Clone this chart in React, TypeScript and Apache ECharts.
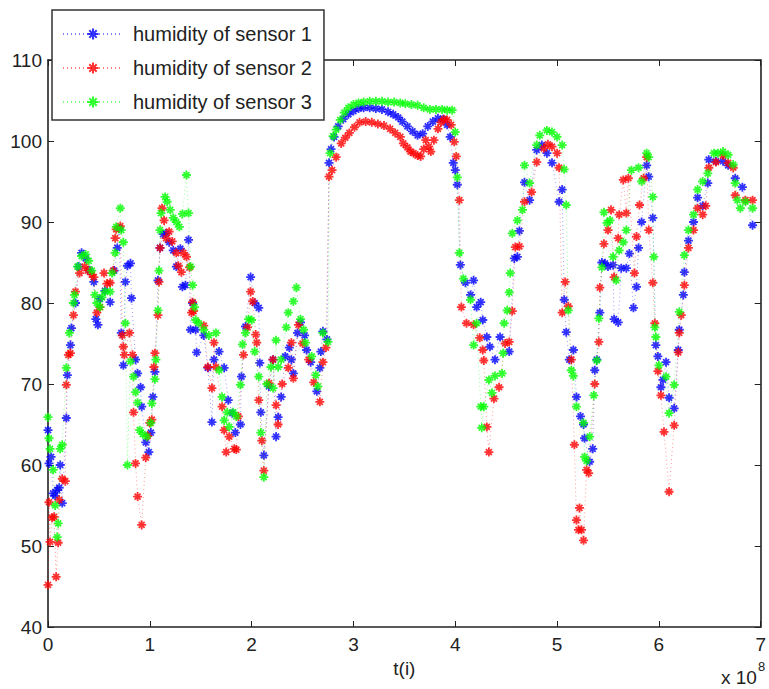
import { useEffect, useRef } from "react";
import * as echarts from "echarts";

const FONT = "'Liberation Sans', Arial, Helvetica, sans-serif";

const xMin = 0;
const xMax = 7;
const xInterval = 1;
const yMin = 40;
const yMax = 110;
const yInterval = 10;

const seriesNames = ["humidity of sensor 1", "humidity of sensor 2", "humidity of sensor 3"];
const seriesColors = ["#0000ff", "#ff0000", "#00ff00"];

// t in units of 1e8, humidity values
const sensor1: [number, number][] = [
  [0.0, 64.3], [0.01, 60.2], [0.03, 61], [0.05, 56.5], [0.07, 56.2], [0.09, 56.9], [0.11, 57.2], [0.12, 60],
  [0.14, 55.3], [0.18, 65.8], [0.19, 71.1], [0.22, 74.8], [0.23, 76.9], [0.27, 80], [0.3, 84.5], [0.33, 86.2],
  [0.37, 85.5], [0.41, 84], [0.45, 82.6], [0.47, 78], [0.49, 77.3], [0.51, 80.5], [0.56, 81.5], [0.61, 80.1],
  [0.65, 84], [0.68, 86.8], [0.7, 89.2], [0.72, 76.3], [0.74, 72.3], [0.76, 82.6], [0.78, 84.6], [0.81, 84.9],
  [0.82, 80.6], [0.86, 73], [0.88, 71.3], [0.91, 69.6], [0.92, 67.2], [0.96, 62.8], [0.99, 61.6], [1.01, 64],
  [1.03, 68.4], [1.05, 71.5], [1.08, 82.8], [1.1, 86.8], [1.13, 88.5], [1.16, 88.6], [1.19, 87.5], [1.23, 86.5],
  [1.26, 84.5], [1.3, 86.7], [1.32, 82], [1.35, 82.2], [1.38, 87.8], [1.4, 76.7], [1.42, 80], [1.45, 76.7],
  [1.46, 73.9], [1.53, 76], [1.57, 72], [1.61, 65.3], [1.63, 73], [1.68, 74], [1.73, 72], [1.77, 68],
  [1.81, 66.4], [1.84, 64], [1.89, 65], [1.9, 70.9], [1.94, 77.1], [1.99, 83.2], [2.03, 80], [2.07, 79.4],
  [2.08, 72.6], [2.09, 66.5], [2.12, 61.2], [2.17, 69.7], [2.21, 73], [2.24, 63.5], [2.26, 65.9], [2.29, 68.4],
  [2.33, 73.4], [2.37, 74.5], [2.39, 73], [2.41, 71.3], [2.45, 76.3], [2.48, 77.6], [2.52, 76], [2.54, 74.2],
  [2.58, 72.7], [2.64, 69.1], [2.67, 72], [2.68, 74], [2.7, 76.5], [2.74, 75.5], [2.76, 97.3], [2.78, 99],
  [2.81, 100.5], [2.85, 101.8], [2.9, 102.7], [2.95, 103.3], [3.0, 103.7], [3.05, 104], [3.1, 104.1], [3.16, 104.1],
  [3.22, 104.0], [3.28, 103.9], [3.34, 103.6], [3.39, 103.3], [3.44, 102.9], [3.48, 102.4], [3.53, 101.8], [3.58, 101.2],
  [3.63, 100.7], [3.68, 100.9], [3.73, 101.8], [3.78, 102.4], [3.83, 102.8], [3.88, 102.7], [3.92, 102], [3.95, 100.5],
  [3.98, 97.3], [4.0, 96.4], [4.02, 94.6], [4.05, 84.7], [4.1, 82.5], [4.15, 81], [4.18, 82.8], [4.21, 79.5],
  [4.25, 80.1], [4.27, 77.9], [4.31, 75.8], [4.34, 74.6], [4.39, 73], [4.44, 75.8], [4.53, 74], [4.58, 85.5],
  [4.61, 85.7], [4.63, 88.9], [4.68, 94.9], [4.73, 92.7], [4.8, 98.9], [4.85, 99.5], [4.9, 98.5], [4.95, 97.3],
  [5.02, 92.5], [5.05, 94], [5.07, 80.4], [5.09, 76.4], [5.12, 73], [5.16, 74.2], [5.19, 68.4], [5.23, 66],
  [5.26, 65], [5.27, 63.3], [5.32, 60.4], [5.35, 62], [5.37, 71.7], [5.39, 73], [5.42, 78.8], [5.44, 85],
  [5.47, 84.9], [5.5, 84.5], [5.55, 84.7], [5.56, 78], [5.6, 77.6], [5.63, 84.3], [5.68, 84.3], [5.71, 86.1],
  [5.75, 79.4], [5.78, 82], [5.8, 86.8], [5.83, 90], [5.88, 97], [5.9, 95.6], [5.94, 90.5], [5.97, 74.8],
  [5.99, 73.4], [6.02, 69.6], [6.04, 70.5], [6.07, 72.7], [6.1, 68.3], [6.15, 67], [6.19, 74.2], [6.2, 76.7],
  [6.24, 81], [6.25, 83.8], [6.29, 87.7], [6.34, 90], [6.38, 93], [6.43, 92], [6.48, 94.8], [6.49, 97.7],
  [6.56, 97.5], [6.63, 97.5], [6.68, 97], [6.75, 95.4], [6.82, 94.3], [6.92, 89.6],
];

const sensor2: [number, number][] = [
  [0.0, 45.2], [0.01, 55.4], [0.02, 50.5], [0.04, 53.5], [0.06, 53.6], [0.08, 46.2], [0.1, 50.4], [0.11, 55.7],
  [0.14, 58.3], [0.17, 58], [0.18, 69.9], [0.2, 73.6], [0.22, 73.8], [0.25, 78.5], [0.27, 81.4], [0.31, 83.7],
  [0.36, 84.5], [0.39, 84], [0.43, 83.5], [0.45, 83.2], [0.48, 78.8], [0.51, 79.5], [0.55, 83.7], [0.58, 82.4],
  [0.61, 82.5], [0.64, 84], [0.66, 88], [0.67, 89.1], [0.71, 89.5], [0.73, 76], [0.74, 74.6], [0.75, 73.6],
  [0.8, 76.3], [0.83, 73.6], [0.84, 66.5], [0.86, 60.2], [0.88, 56.1], [0.92, 52.6], [0.96, 60.9], [0.98, 63.6],
  [1.0, 65.2], [1.02, 65.6], [1.04, 72.1], [1.05, 73.8], [1.08, 78.5], [1.09, 82.6], [1.1, 86.8], [1.12, 91.7],
  [1.14, 90.2], [1.16, 88], [1.19, 88.8], [1.22, 87.6], [1.26, 86.2], [1.28, 84.6], [1.31, 83.8], [1.33, 86.2],
  [1.36, 85.7], [1.39, 84.4], [1.41, 78.8], [1.42, 80.1], [1.43, 79], [1.53, 77.2], [1.57, 72.1], [1.61, 69.5],
  [1.63, 75.1], [1.65, 72.1], [1.71, 67.2], [1.73, 64.3], [1.75, 61.6], [1.78, 63.5], [1.83, 62], [1.85, 61.9],
  [1.87, 66], [1.92, 73.6], [1.96, 77], [1.99, 81.4], [2.01, 80.2], [2.04, 76.1], [2.05, 75.1], [2.07, 68],
  [2.1, 63], [2.12, 59.3], [2.17, 70.1], [2.21, 73], [2.24, 67.4], [2.26, 65], [2.3, 70], [2.36, 72],
  [2.39, 75.1], [2.41, 70.7], [2.46, 77.3], [2.5, 75], [2.56, 73], [2.61, 70.2], [2.67, 67.8], [2.7, 72.7],
  [2.73, 74.5], [2.76, 95.6], [2.79, 96.4], [2.83, 98], [2.88, 99.7], [2.92, 100.4], [2.96, 101], [3.01, 101.7],
  [3.06, 102.3], [3.12, 102.4], [3.18, 102.3], [3.24, 102.1], [3.3, 101.9], [3.36, 101.5], [3.41, 101], [3.46, 100.5],
  [3.49, 99.7], [3.53, 99.2], [3.56, 98.7], [3.59, 98.5], [3.63, 98.2], [3.66, 98.1], [3.69, 99], [3.71, 100.1],
  [3.74, 99.3], [3.76, 98.7], [3.79, 100.1], [3.83, 101.5], [3.86, 102.3], [3.89, 102.7], [3.92, 102.6], [3.96, 102],
  [3.99, 99.9], [4.01, 98.1], [4.04, 92.7], [4.06, 79.5], [4.11, 77.5], [4.18, 77.3], [4.24, 75.7], [4.27, 74.2],
  [4.28, 72.9], [4.31, 64.7], [4.33, 61.6], [4.38, 68.2], [4.43, 69.6], [4.49, 75], [4.53, 75.2], [4.56, 79],
  [4.59, 86.9], [4.63, 87], [4.68, 92.5], [4.75, 93.7], [4.8, 97.4], [4.87, 99.1], [4.91, 99.6], [4.95, 99.3],
  [5.0, 98.5], [5.02, 96.7], [5.05, 78.8], [5.08, 82.6], [5.11, 79.6], [5.14, 73], [5.17, 62.5], [5.19, 53.2],
  [5.21, 52], [5.22, 54.7], [5.24, 52], [5.26, 50.7], [5.29, 59.4], [5.31, 59], [5.37, 70], [5.41, 75.2],
  [5.42, 81.9], [5.46, 87.3], [5.5, 89], [5.53, 91.5], [5.56, 83.2], [5.6, 88], [5.61, 90.9], [5.65, 95.2],
  [5.68, 91.1], [5.7, 95.4], [5.76, 83.7], [5.78, 88.2], [5.81, 92.1], [5.85, 95.4], [5.88, 98], [5.9, 89],
  [5.94, 82.5], [5.96, 77.5], [5.99, 71.6], [6.02, 68.6], [6.05, 64.1], [6.1, 56.7], [6.15, 64.9], [6.19, 73.9],
  [6.2, 76.3], [6.22, 78.5], [6.25, 82.2], [6.29, 86.8], [6.34, 89], [6.38, 91.7], [6.43, 90.9], [6.46, 92],
  [6.49, 96.7], [6.56, 97.4], [6.63, 98.2], [6.68, 97.3], [6.73, 96.7], [6.75, 93.3], [6.85, 92.7], [6.92, 92.7],
];

const sensor3: [number, number][] = [
  [0.0, 65.9], [0.01, 63.3], [0.02, 62], [0.05, 59.4], [0.07, 55], [0.09, 51.1], [0.1, 52.8], [0.12, 62],
  [0.14, 62.5], [0.18, 72], [0.21, 76.3], [0.25, 80], [0.26, 81], [0.29, 84.5], [0.33, 85.8], [0.37, 86],
  [0.4, 85.2], [0.43, 84], [0.46, 81], [0.48, 80], [0.51, 79.5], [0.53, 80.7], [0.56, 81.4], [0.61, 81.4],
  [0.63, 83.7], [0.66, 86.2], [0.67, 89.4], [0.71, 91.7], [0.72, 89], [0.74, 87.5], [0.76, 77.5], [0.78, 60],
  [0.81, 72.8], [0.84, 70.9], [0.86, 69], [0.88, 67.7], [0.9, 64.3], [0.93, 63.8], [0.97, 63.5], [1.01, 65.2],
  [1.02, 67.6], [1.05, 70.6], [1.06, 73], [1.08, 79.1], [1.09, 84], [1.1, 89], [1.11, 91.1], [1.15, 93.1],
  [1.17, 92.5], [1.2, 91.5], [1.23, 90.5], [1.26, 90], [1.29, 89.4], [1.32, 91], [1.36, 95.8], [1.38, 91.1],
  [1.4, 84.5], [1.42, 82.2], [1.44, 79.5], [1.45, 77.9], [1.48, 77.5], [1.53, 76.7], [1.58, 76], [1.65, 76.3],
  [1.68, 71.7], [1.71, 68.4], [1.73, 65.5], [1.76, 66.5], [1.78, 64.7], [1.82, 66.5], [1.85, 66], [1.89, 69.9],
  [1.91, 74.9], [1.94, 76.3], [1.97, 78], [2.0, 77.9], [2.03, 74], [2.07, 70.9], [2.09, 64], [2.12, 58.5],
  [2.15, 70], [2.19, 72.1], [2.21, 69.5], [2.24, 75.4], [2.26, 72.1], [2.29, 73], [2.34, 77], [2.36, 78.8],
  [2.41, 80.2], [2.44, 81.9], [2.48, 78], [2.51, 76.7], [2.53, 75.1], [2.59, 73.4], [2.63, 71.1], [2.65, 69.7],
  [2.7, 76.3], [2.75, 75.2], [2.77, 98.5], [2.8, 100.6], [2.83, 101.4], [2.87, 102.6], [2.91, 103.5], [2.95, 104.1],
  [3.0, 104.5], [3.05, 104.7], [3.1, 104.8], [3.16, 104.9], [3.22, 104.9], [3.28, 104.9], [3.34, 104.8], [3.4, 104.8],
  [3.46, 104.7], [3.51, 104.6], [3.57, 104.5], [3.63, 104.4], [3.69, 104.1], [3.75, 103.9], [3.81, 103.9], [3.87, 103.9],
  [3.92, 103.8], [3.97, 103.8], [4.0, 101.1], [4.02, 95.5], [4.04, 86.2], [4.08, 83], [4.15, 80.4], [4.18, 74.8],
  [4.21, 77.5], [4.25, 67.2], [4.26, 64.6], [4.28, 67.2], [4.33, 70.5], [4.36, 68.9], [4.39, 71], [4.46, 71.3],
  [4.47, 73.8], [4.48, 77.5], [4.51, 79.1], [4.53, 81.3], [4.54, 83.7], [4.56, 88.6], [4.61, 90.2], [4.66, 91.5],
  [4.68, 97], [4.73, 94.8], [4.8, 99.5], [4.83, 100.7], [4.9, 101.3], [4.95, 101.1], [5.0, 100.5], [5.05, 99.5],
  [5.07, 96.5], [5.09, 92.1], [5.11, 79.1], [5.14, 71.7], [5.16, 71], [5.19, 67.2], [5.26, 65.2], [5.27, 61],
  [5.29, 60.5], [5.32, 63.5], [5.36, 68.6], [5.39, 72.9], [5.41, 78.1], [5.44, 84.4], [5.46, 91.2], [5.49, 89.9],
  [5.52, 90.2], [5.55, 85.7], [5.58, 82.8], [5.61, 86.5], [5.65, 87.5], [5.68, 89], [5.73, 96.4], [5.8, 96.7],
  [5.83, 95], [5.88, 98.5], [5.9, 98], [5.94, 93.1], [5.95, 85.7], [5.96, 77], [5.97, 75.8], [6.0, 72.3],
  [6.07, 70.9], [6.1, 66.4], [6.15, 69.9], [6.2, 78.9], [6.25, 85.9], [6.29, 89], [6.34, 90.9], [6.38, 94],
  [6.43, 95], [6.48, 96], [6.54, 98.5], [6.58, 98.5], [6.63, 98.7], [6.68, 98.3], [6.73, 97.1], [6.75, 94.8],
  [6.77, 92.7], [6.8, 91.7], [6.85, 92.5], [6.92, 91.7],
];

const seriesData = [sensor1, sensor2, sensor3];

const ASTERISK = "path://M5 0L5 10M0 5L10 5M1.7 1.7L8.3 8.3M1.7 8.3L8.3 1.7";

export default function App() {
  const ref = useRef<HTMLDivElement>(null);

  useEffect(() => {
    if (!ref.current) return;
    const chart = echarts.init(ref.current, null, { renderer: "svg" });

    const axisLine = { show: true, onZero: false, lineStyle: { color: "#222", width: 1.6 } };
    const axisTick = { show: true, inside: true, length: 6, lineStyle: { color: "#222", width: 1 } };
    const labelStyle = { fontSize: 19, color: "#222", fontFamily: FONT };

    chart.setOption({
      animation: false,
      backgroundColor: "#fff",
      grid: { left: 48, right: 4, top: 60, bottom: 62, containLabel: false },
      legend: {
        orient: "vertical",
        left: 52,
        top: 10,
        padding: [14, 12, 8, 10],
        itemWidth: 60,
        itemHeight: 14,
        itemGap: 14,
        borderColor: "#333",
        borderWidth: 1.5,
        backgroundColor: "#fff",
        textStyle: { fontSize: 20, color: "#222", fontFamily: FONT, padding: [0, 0, 0, 5] },
        data: seriesNames,
      },
      xAxis: [
        {
          type: "value",
          min: xMin,
          max: xMax,
          interval: xInterval,
          position: "bottom",
          axisLine,
          axisTick,
          axisLabel: { ...labelStyle, margin: 8 },
          splitLine: { show: false },
          name: "t(i)",
          nameLocation: "middle",
          nameGap: 29,
          nameTextStyle: { fontSize: 19, color: "#222", fontFamily: FONT },
        },
        {
          type: "value",
          min: xMin,
          max: xMax,
          interval: xInterval,
          position: "top",
          axisLine,
          axisTick,
          axisLabel: { show: false },
          splitLine: { show: false },
        },
      ],
      yAxis: [
        {
          type: "value",
          min: yMin,
          max: yMax,
          interval: yInterval,
          position: "left",
          axisLine,
          axisTick,
          axisLabel: { ...labelStyle, margin: 6 },
          splitLine: { show: false },
        },
        {
          type: "value",
          min: yMin,
          max: yMax,
          interval: yInterval,
          position: "right",
          axisLine,
          axisTick,
          axisLabel: { show: false },
          splitLine: { show: false },
        },
      ],
      graphic: [
        {
          type: "text",
          left: 721,
          top: 668,
          style: { text: "x 10", fontSize: 19, fill: "#222", fontFamily: FONT },
        },
        {
          type: "text",
          left: 758,
          top: 660,
          style: { text: "8", fontSize: 13, fill: "#222", fontFamily: FONT },
        },
      ],
      series: seriesData.map((d, i) => ({
        name: seriesNames[i],
        type: "line",
        data: d,
        xAxisIndex: 0,
        yAxisIndex: 0,
        symbol: ASTERISK,
        symbolSize: 9,
        showSymbol: true,
        showAllSymbol: true,
        color: seriesColors[i],
        itemStyle: { color: seriesColors[i], borderColor: seriesColors[i], borderWidth: 1.8, opacity: 0.8 },
        lineStyle: { color: seriesColors[i], width: 0.8, type: [1, 3], opacity: 0.5 },
        emphasis: { disabled: true },
        z: 2 + i,
      })),
    });

    return () => chart.dispose();
  }, []);

  return (
    <div
      ref={ref}
      style={{ position: "absolute", left: 0, top: 0, width: 769, height: 689 }}
    />
  );
}
